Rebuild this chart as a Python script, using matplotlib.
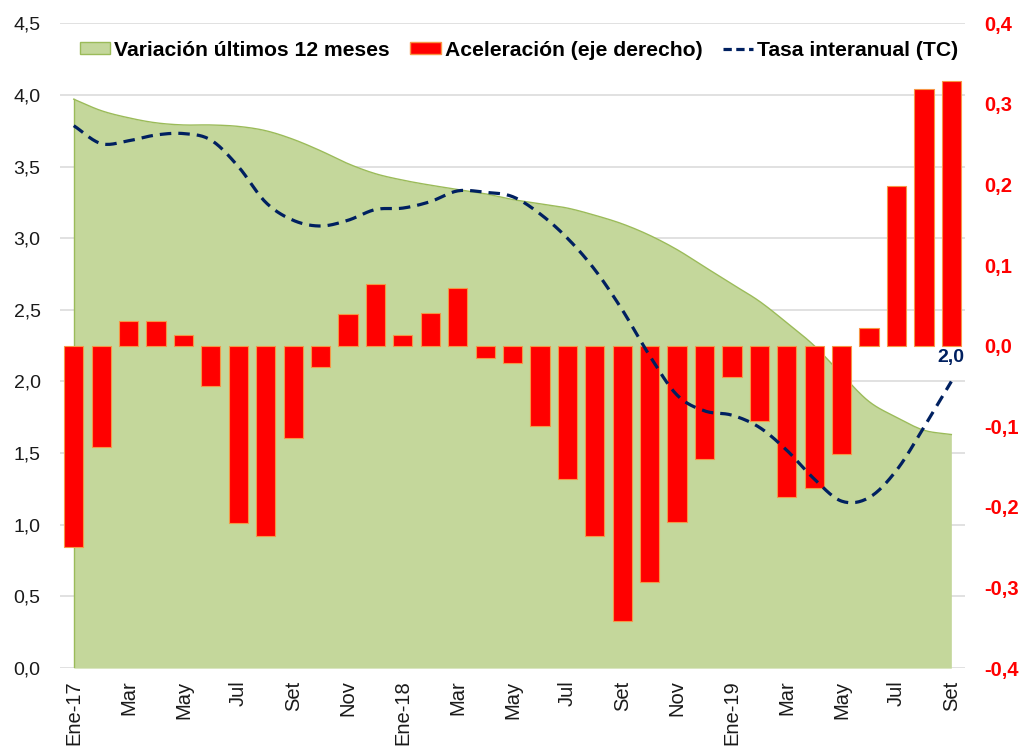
import numpy as np
import matplotlib
matplotlib.use("Agg")
import matplotlib.pyplot as plt
from matplotlib.patches import Patch
from matplotlib.lines import Line2D

plt.rcParams['font.family'] = ['Liberation Sans', 'DejaVu Sans']

months = ["Ene-17", "Feb", "Mar", "Abr", "May", "Jun", "Jul", "Ago", "Set", "Oct", "Nov", "Dic",
          "Ene-18", "Feb", "Mar", "Abr", "May", "Jun", "Jul", "Ago", "Set", "Oct", "Nov", "Dic",
          "Ene-19", "Feb", "Mar", "Abr", "May", "Jun", "Jul", "Ago", "Set"]

var12 = [3.97, 3.89, 3.84, 3.805, 3.79, 3.79, 3.78, 3.75, 3.69, 3.61, 3.52, 3.45,
         3.405, 3.37, 3.34, 3.31, 3.27, 3.24, 3.21, 3.16, 3.10, 3.02, 2.92, 2.80,
         2.68, 2.56, 2.41, 2.25, 2.05, 1.86, 1.75, 1.66, 1.63]

acel = [-0.25, -0.126, 0.03, 0.03, 0.013, -0.05, -0.22, -0.236, -0.114, -0.027, 0.039, 0.076,
        0.013, 0.041, 0.071, -0.015, -0.021, -0.10, -0.166, -0.236, -0.341, -0.293, -0.219, -0.141,
        -0.039, -0.094, -0.188, -0.177, -0.135, 0.022, 0.198, 0.319, 0.328]

tasa = [3.785, 3.66, 3.68, 3.72, 3.73, 3.685, 3.50, 3.25, 3.125, 3.085, 3.125, 3.20,
        3.21, 3.255, 3.33, 3.32, 3.29, 3.17, 3.00, 2.78, 2.50, 2.18, 1.905, 1.795,
        1.765, 1.68, 1.52, 1.32, 1.165, 1.19, 1.38, 1.68, 2.00]

left_ticks = [0.0, 0.5, 1.0, 1.5, 2.0, 2.5, 3.0, 3.5, 4.0, 4.5]
right_ticks = [-0.4, -0.3, -0.2, -0.1, 0.0, 0.1, 0.2, 0.3, 0.4]


def smooth(xs, ys, n=16):
    """Catmull-Rom curve through the given points (rendering only)."""
    xs = np.asarray(xs, float)
    ys = np.asarray(ys, float)
    px = np.concatenate([[2 * xs[0] - xs[1]], xs, [2 * xs[-1] - xs[-2]]])
    py = np.concatenate([[2 * ys[0] - ys[1]], ys, [2 * ys[-1] - ys[-2]]])
    outx, outy = [], []
    t = np.linspace(0, 1, n, endpoint=False)
    for i in range(1, len(px) - 2):
        for P, out in ((px, outx), (py, outy)):
            p0, p1, p2, p3 = P[i - 1], P[i], P[i + 1], P[i + 2]
            out.extend(0.5 * ((2 * p1) + (-p0 + p2) * t + (2 * p0 - 5 * p1 + 4 * p2 - p3) * t ** 2
                              + (-p0 + 3 * p1 - 3 * p2 + p3) * t ** 3))
    outx.append(xs[-1])
    outy.append(ys[-1])
    return np.array(outx), np.array(outy)


x = np.arange(len(months))

fig = plt.figure(figsize=(10.21, 7.49), dpi=100)
ax = fig.add_axes([0.0588, 0.108, 0.8864, 0.861])
ax2 = ax.twinx()
ax3 = ax.twinx()

green = '#C4D79B'
green_edge = '#9BBB59'
navy = '#002060'

# Area
sx, sy = smooth(x, var12)
ax.fill_between(sx, 0, sy, color=green, zorder=2, linewidth=0)
ax.plot(sx, sy, color=green_edge, lw=1.0, zorder=3)
ax.plot([x[0], x[0]], [0, var12[0]], color=green_edge, lw=1.0, zorder=3)

ax.set_ylim(0, 4.5)
ax.set_xlim(-0.5, len(months) - 0.5)
ax.set_yticks(left_ticks)
ax.set_yticklabels([f"{v:.1f}".replace('.', ',') for v in left_ticks], fontsize=14, color='#1a1a1a')
ax.yaxis.grid(True, color='#DCDCDC', lw=1.2, zorder=0)
ax.set_axisbelow(True)
ax.tick_params(axis='y', length=0, pad=14)
ax.set_xticks(x[::2])
ax.set_xticklabels(months[::2], rotation=90, fontsize=14.5, color='#1a1a1a')
ax.tick_params(axis='x', length=0, pad=9)
for s in ax.spines.values():
    s.set_visible(False)

# Bars
ax2.bar(x, acel, width=0.7, color='#FF0000', edgecolor='#F79646', linewidth=0.8, zorder=3)
ax2.set_ylim(-0.4, 0.4)
ax2.set_yticks(right_ticks)
ax2.set_yticklabels([f"{v:.1f}".replace('.', ',') for v in right_ticks], fontsize=14.5,
                    color='#FF0000', fontweight='bold')
ax2.tick_params(axis='y', length=0, pad=14)
for s in ax2.spines.values():
    s.set_visible(False)

# Dashed line
lx, ly = smooth(x, tasa)
ax3.plot(lx, ly, color=navy, lw=2.3, linestyle=(0, (3.6, 2.2)), zorder=4)
ax3.set_ylim(0, 4.5)
ax3.axis('off')
ax3.text(x[-1], tasa[-1] + 0.17, f"{tasa[-1]:.1f}".replace('.', ','), color=navy,
         fontsize=14, fontweight='bold', ha='center', va='center')

handles = [Patch(facecolor=green, edgecolor=green_edge),
           Patch(facecolor='#FF0000', edgecolor='#F79646'),
           Line2D([0], [0], color=navy, lw=2.3, linestyle=(0, (2.6, 1.4)))]
labels = ["Variación últimos 12 meses", "Aceleración (eje derecho)", "Tasa interanual (TC)"]
fig.legend(handles, labels, loc='center', bbox_to_anchor=(519 / 1021, 1 - 50 / 749), ncol=3,
           frameon=False, prop={'weight': 'bold', 'size': 15.2}, handlelength=1.45,
           handletextpad=0.2, columnspacing=0.95, handleheight=0.55)

fig.savefig("out.png", dpi=100)
